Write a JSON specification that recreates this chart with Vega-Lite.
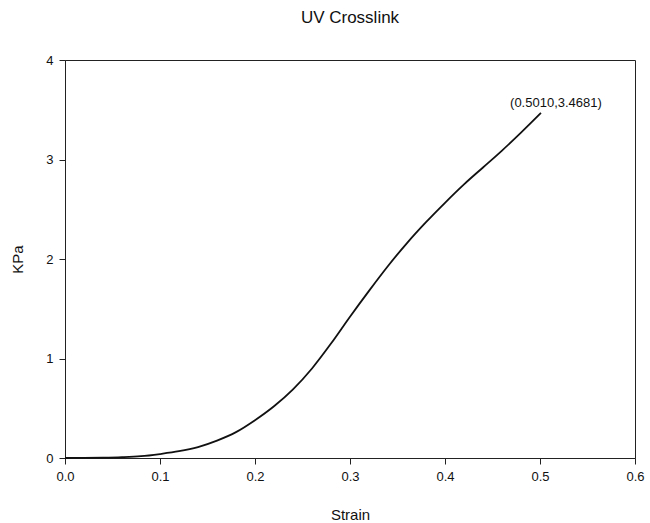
{
  "$schema": "https://vega.github.io/schema/vega-lite/v6.json",
  "width": 570,
  "height": 398,
  "autosize": "none",
  "padding": {"left": 65, "top": 60, "right": 15, "bottom": 65},
  "background": "white",
  "config": {
    "font": "Liberation Sans",
    "view": {"stroke": "#222", "strokeWidth": 1},
    "axis": {"grid": false, "domainColor": "#222", "tickColor": "#222", "labelColor": "#111", "titleColor": "#111", "labelFont": "Liberation Sans", "titleFont": "Liberation Sans", "labelFontSize": 13, "titleFontSize": 15, "titleFontWeight": "normal", "tickSize": 6, "labelFlush": false, "labelOverlap": false}
  },
  "title": {"text": "UV Crosslink", "fontSize": 17, "fontWeight": "normal", "font": "Liberation Sans", "color": "#111", "offset": 27, "anchor": "middle"},
  "data": {"values": [
    {"strain": 0.0, "kpa": 0.0},
    {"strain": 0.02, "kpa": 0.001},
    {"strain": 0.04, "kpa": 0.003},
    {"strain": 0.06, "kpa": 0.008},
    {"strain": 0.08, "kpa": 0.018},
    {"strain": 0.10, "kpa": 0.04},
    {"strain": 0.12, "kpa": 0.068},
    {"strain": 0.14, "kpa": 0.11},
    {"strain": 0.16, "kpa": 0.175},
    {"strain": 0.18, "kpa": 0.26},
    {"strain": 0.20, "kpa": 0.38},
    {"strain": 0.22, "kpa": 0.52},
    {"strain": 0.24, "kpa": 0.69},
    {"strain": 0.26, "kpa": 0.9},
    {"strain": 0.28, "kpa": 1.15},
    {"strain": 0.30, "kpa": 1.42},
    {"strain": 0.32, "kpa": 1.68},
    {"strain": 0.34, "kpa": 1.93},
    {"strain": 0.36, "kpa": 2.16},
    {"strain": 0.38, "kpa": 2.37},
    {"strain": 0.40, "kpa": 2.565},
    {"strain": 0.42, "kpa": 2.75},
    {"strain": 0.44, "kpa": 2.92},
    {"strain": 0.46, "kpa": 3.09},
    {"strain": 0.48, "kpa": 3.27},
    {"strain": 0.501, "kpa": 3.4681}
  ]},
  "layer": [
    {
      "mark": {"type": "line", "color": "#111", "strokeWidth": 1.8, "interpolate": "monotone"},
      "encoding": {
        "x": {"field": "strain", "type": "quantitative", "scale": {"domain": [0, 0.6], "nice": false, "zero": false}, "axis": {"title": "Strain", "values": [0, 0.1, 0.2, 0.3, 0.4, 0.5, 0.6], "format": ".1f", "labelPadding": 6, "titlePadding": 24}},
        "y": {"field": "kpa", "type": "quantitative", "scale": {"domain": [0, 4], "nice": false}, "axis": {"title": "KPa", "values": [0, 1, 2, 3, 4], "format": "d", "labelPadding": 6, "titlePadding": 20}}
      }
    },
    {
      "transform": [{"filter": "datum.strain > 0.5"}],
      "mark": {"type": "text", "fontSize": 13, "font": "Liberation Sans", "color": "#111", "dx": 15, "dy": -10, "align": "center"},
      "encoding": {
        "x": {"field": "strain", "type": "quantitative"},
        "y": {"field": "kpa", "type": "quantitative"},
        "text": {"value": "(0.5010,3.4681)"}
      }
    }
  ]
}
